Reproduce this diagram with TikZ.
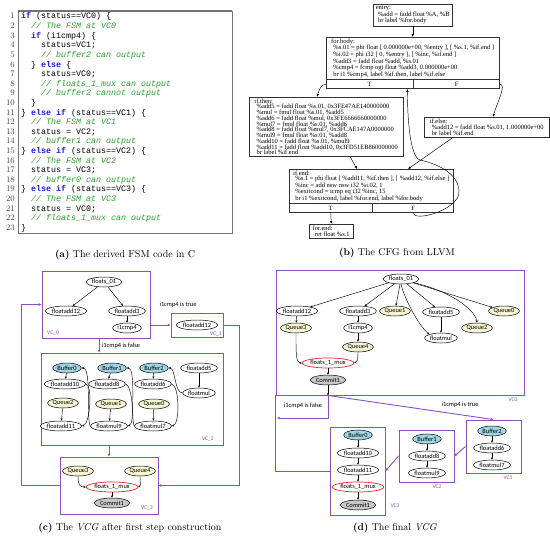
\documentclass[tikz,border=0pt]{standalone}
\usepackage{fontspec}
\usetikzlibrary{shapes.geometric,arrows.meta}
\newfontfamily\cfgfont{Liberation Serif}
\newfontfamily\vfont{Carlito}
\newfontfamily\codefont{Liberation Mono}
\definecolor{vcpurple}{RGB}{140,80,195}
\definecolor{bufblue}{RGB}{160,212,226}
\definecolor{queueyellow}{RGB}{246,246,212}
\definecolor{commitgray}{RGB}{200,200,200}
\definecolor{codegreen}{RGB}{40,160,40}
\definecolor{codeblue}{RGB}{30,30,220}
\definecolor{muxred}{RGB}{240,40,40}
\newcommand{\codekw}[1]{\textcolor{codeblue}{\bfseries #1}}
\newcommand{\codecm}[1]{\textcolor{codegreen}{\itshape #1}}
\newcommand{\ind}{\hspace*{2.2pt}}
\begin{document}
\begin{tikzpicture}[x=1pt,y=-1pt,
  codeline/.style={anchor=base west, inner sep=0pt, font=\codefont\fontsize{8.33}{9.6}\selectfont},
  lnum/.style={anchor=base east, inner sep=0pt, font=\fontsize{8.5}{9}\selectfont, text=black!75},
  cfgbox/.style={draw=black!80, line width=0.45pt, rectangle, anchor=north west, align=left, inner sep=1.2pt, font=\cfgfont\fontsize{6.5}{5.75}\selectfont},
  cfgport/.style={draw=black!80, line width=0.45pt, rectangle, anchor=north west, inner sep=0pt, minimum height=9pt, font=\cfgfont\fontsize{6.5}{6.5}\selectfont},
  cfgarrow/.style={-{Latex[length=3pt,width=2.4pt]}, line width=0.45pt},
  vnode/.style={ellipse, draw=black, line width=0.5pt, fill=white, inner xsep=0.6pt, inner ysep=0pt, minimum height=10pt, font=\vfont\fontsize{6.4}{6.4}\selectfont},
  bufnode/.style={vnode, fill=bufblue},
  quenode/.style={vnode, fill=queueyellow},
  comnode/.style={vnode, fill=commitgray},
  muxnode/.style={vnode, draw=muxred, line width=0.7pt},
  vcbox/.style={draw=vcpurple, line width=0.9pt, rectangle, inner sep=0pt},
  vclabel/.style={text=vcpurple, font=\vfont\fontsize{5.6}{5.6}\selectfont, inner sep=0pt},
  vcarrow/.style={draw=vcpurple, line width=0.9pt, -{Stealth[length=3.2pt,width=2.8pt]}},
  vcline/.style={draw=vcpurple, line width=0.9pt},
  garrow/.style={-{Stealth[length=2.4pt,width=2.1pt]}, line width=0.45pt},
  edgelabel/.style={font=\vfont\fontsize{6.4}{6.4}\selectfont, inner sep=0pt},
  caption/.style={font=\fontsize{10}{12}\selectfont, inner sep=0pt}
]
\useasboundingbox (0,0) rectangle (550,538);

% ---------------- (a) code ----------------
\node[draw=black!55, line width=0.8pt, minimum width=214pt, minimum height=222pt, inner sep=0pt] (codeframe) at (125,122) {};
\draw[black!55, line width=1.4pt] (codeframe.north west) -- (codeframe.north east);
\draw[black!55, line width=1.4pt] (codeframe.south west) -- (codeframe.south east);
\foreach \k in {1,...,23} \node[lnum] (n\k) at (15,{19+(\k-1)*9.61}) {\k};
\node[codeline] (l1) at (21,19) {\codekw{if} (status==VC0) \{};
\node[codeline] (l2) at (31,28.61) {\codecm{// The FSM at VC0}};
\node[codeline] (l3) at (31,38.22) {\codekw{if} (i1cmp4) \{};
\node[codeline] (l4) at (41,47.83) {status=VC1;};
\node[codeline] (l5) at (41,57.44) {\codecm{// buffer2 can output}};
\node[codeline] (l6) at (31,67.05) {\} \codekw{else} \{};
\node[codeline] (l7) at (41,76.66) {status=VC0;};
\node[codeline] (l8) at (41,86.27) {\codecm{// floats\_1\_mux can output}};
\node[codeline] (l9) at (41,95.88) {\codecm{// buffer2 cannot output}};
\node[codeline] (l10) at (31,105.49) {\}};
\node[codeline] (l11) at (21,115.1) {\} \codekw{else if} (status==VC1) \{};
\node[codeline] (l12) at (31,124.71) {\codecm{// The FSM at VC1}};
\node[codeline] (l13) at (31,134.32) {status = VC2;};
\node[codeline] (l14) at (31,143.93) {\codecm{// buffer1 can output}};
\node[codeline] (l15) at (21,153.54) {\} \codekw{else if} (status==VC2) \{};
\node[codeline] (l16) at (31,163.15) {\codecm{// The FSM at VC2}};
\node[codeline] (l17) at (31,172.76) {status = VC3;};
\node[codeline] (l18) at (31,182.37) {\codecm{// buffer0 can output}};
\node[codeline] (l19) at (21,191.98) {\} \codekw{else if} (status==VC3) \{};
\node[codeline] (l20) at (31,201.59) {\codecm{// The FSM at VC3}};
\node[codeline] (l21) at (31,211.2) {status = VC0;};
\node[codeline] (l22) at (31,220.81) {\codecm{// floats\_1\_mux can output}};
\node[codeline] (l23) at (21,230.42) {\}};
\node[caption] (capa) at (125,255) {\textbf{(a)} The derived FSM code in C};

% ---------------- (b) CFG ----------------
\node[cfgbox, minimum width=79pt, minimum height=22pt] (entry) at (373,4) {entry:\\\ind\%add = fadd float \%A, \%B\\\ind br label \%for.body};
\node[cfgbox, minimum width=173pt, minimum height=37pt] (forbody) at (326,37) {for.body:\\\ind\%s.01 = phi float [ 0.000000e+00, \%entry ], [ \%s.1, \%if.end ]\\\ind\%i.02 = phi i32 [ 0, \%entry ], [ \%inc, \%if.end ]\\\ind\%add3 = fadd float \%add, \%s.01\\\ind\%cmp4 = fcmp ogt float \%add3, 0.000000e+00\\\ind br i1 \%cmp4, label \%if.then, label \%if.else};
\node[cfgport, minimum width=87pt] (forbodyT) at (forbody.south west) {T};
\node[cfgport, minimum width=86pt] (forbodyF) at (forbodyT.north east) {F};
\node[cfgbox, minimum width=154pt, minimum height=59pt] (ifthen) at (249,97) {if.then:\\\ind\%add5 = fadd float \%s.01, 0x3FE47AE140000000\\\ind\%mul = fmul float \%s.01, \%add5\\\ind\%add6 = fadd float \%mul, 0x3FE6666660000000\\\ind\%mul7 = fmul float \%s.01, \%add6\\\ind\%add8 = fadd float \%mul7, 0x3FCAE147A0000000\\\ind\%mul9 = fmul float \%s.01, \%add8\\\ind\%add10 = fadd float \%s.01, \%mul9\\\ind\%add11 = fadd float \%add10, 0x3FD51EB860000000\\\ind br label \%if.end};
\node[cfgbox, minimum width=125pt, minimum height=20pt] (ifelse) at (424,117) {if.else:\\\ind\%add12 = fadd float \%s.01, 1.000000e+00\\\ind br label \%if.end};
\node[cfgbox, minimum width=164pt, minimum height=32pt] (ifend) at (289,169) {if.end:\\\ind\%s.1 = phi float [ \%add11, \%if.then ], [ \%add12, \%if.else ]\\\ind\%inc = add nsw nsw i32 \%i.02, 1\\\ind\%exitcond = icmp eq i32 \%inc, 15\\\ind br i1 \%exitcond, label \%for.end, label \%for.body};
\node[cfgport, minimum width=83pt] (ifendT) at (ifend.south west) {T};
\node[cfgport, minimum width=81pt] (ifendF) at (ifendT.north east) {F};
\node[cfgbox, minimum width=44pt, minimum height=14pt] (forend) at (309,224) {for.end:\\\ind ret float \%s.1};
\draw[cfgarrow] (entry.south) -- (forbody.north);
\draw[cfgarrow] (forbodyT.west) .. controls +(-5,0) and +(2,-7) .. ([xshift=68pt]ifthen.north west);
\draw[cfgarrow] (forbodyF.east) .. controls +(7,0) and +(4,-14) .. ([xshift=69pt]ifelse.north west);
\draw[cfgarrow] ([xshift=101pt]ifthen.south west) -- ([xshift=68pt]ifend.north west);
\draw[cfgarrow] ([xshift=29pt]ifelse.south west) -- ([xshift=119pt]ifend.north west);
\draw[cfgarrow] (ifendT.south) -- (forend.north);
\draw[cfgarrow] (ifendF.south) .. controls +(0,10) and +(0,18) .. (459,192) .. controls +(0,-20) and +(14,3) .. (420,160) .. controls +(-10,-3) and +(0,30) .. ([xshift=-6pt]forbodyT.south east);
\node[caption] (capb) at (397,253) {\textbf{(b)} The CFG from LLVM};

% ---------------- (c) VCG first step ----------------
\node[vcbox, minimum width=108pt, minimum height=67pt] (c0box) at (96,304.5) {};
\node[vcbox, minimum width=52pt, minimum height=24pt] (c1box) at (197,325) {};
\node[vcbox, minimum width=182pt, minimum height=92pt] (c2box) at (132,399) {};
\node[vcbox, minimum width=98pt, minimum height=57pt] (c3box) at (109,485.5) {};
\node[vclabel, anchor=west] (c0lab) at (47,333) {VC\_0};
\node[vclabel, anchor=east] (c1lab) at (222,334) {VC\_1};
\node[vclabel, anchor=east] (c2lab) at (214,439) {VC\_2};
\node[vclabel, anchor=east] (c3lab) at (153,508) {VC\_3};

\node[vnode] (c0f01) at (104,282) {floats\_01};
\node[vnode] (c0fa12) at (66,311) {floatadd12};
\node[vnode] (c0fa3) at (127,311) {floatadd3};
\node[vnode] (c0cmp) at (127,328) {i1cmp4};
\node[vnode] (c1fa12) at (197,325) {floatadd12};

\node[bufnode] (c2b0) at (67,368) {Buffer0};
\node[vnode] (c2fa10) at (65,384) {floatadd10};
\node[quenode] (c2q2) at (63,403) {Queue2};
\node[vnode] (c2fa11) at (61,426) {floatadd11};
\node[bufnode] (c2b1) at (112,368) {Buffer1};
\node[vnode] (c2fa8) at (107,384) {floatadd8};
\node[quenode] (c2q1) at (111,404) {Queue1};
\node[vnode] (c2fm9) at (109,426) {floatmul9};
\node[bufnode] (c2b2) at (154,368) {Buffer2};
\node[vnode] (c2fa6) at (153,384) {floatadd6};
\node[quenode] (c2q0) at (154,404) {Queue0};
\node[vnode] (c2fm7) at (153,426) {floatmul7};
\node[vnode] (c2fa5) at (199,368) {floatadd5};
\node[vnode] (c2fm) at (199,393) {floatmul};

\node[quenode] (c3q3) at (78,471) {Queue3};
\node[quenode] (c3q4) at (140,471) {Queue4};
\node[muxnode] (c3mux) at (112,487) {floats\_1\_mux};
\node[comnode] (c3com) at (112,503) {Commit1};

\draw[garrow] (c0f01) -- (c0fa12);
\draw[garrow] (c0f01) -- (c0fa3);
\draw[garrow] (c0fa3) -- (c0cmp);
\draw[garrow] (c2b0) -- (c2fa10);
\draw[garrow] (c2q2) -- (c2fa11);
\draw[garrow] (c2b1) -- (c2fa8);
\draw[garrow] (c2q1) -- (c2fm9);
\draw[garrow] (c2b2) -- (c2fa6);
\draw[garrow] (c2q0) -- (c2fm7);
\draw[garrow] (c2fa5) -- (c2fm);
\draw[garrow] (c2fa10.east) .. controls +(7,2) and +(8,-2) .. (c2fa11.east);
\draw[garrow] (c2fm9.west) .. controls +(-4,-10) and +(10,0) .. (c2b0.east);
\draw[garrow] (c2fa8.east) .. controls +(7,2) and +(7,-2) .. (c2fm9.east);
\draw[garrow] (c2fm7.west) .. controls +(-4,-10) and +(10,0) .. (c2b1.east);
\draw[garrow] (c2fa6.east) .. controls +(8,2) and +(8,-2) .. (c2fm7.east);
\draw[garrow] (c2fm.west) .. controls +(-8,0) and +(7,0) .. (c2b2.east);
\draw[garrow] (c3q3.south) .. controls +(0,9) and +(-6,0) .. (c3mux.west);
\draw[garrow] (c3q4.south) .. controls +(0,9) and +(3,-1) .. (c3mux.east);
\draw[garrow] (c3mux) -- (c3com);

\draw[vcarrow] (c0box.east |- c1box.west) -- (c1box.west);
\node[edgelabel] (ctrue) at (178,305) {i1cmp4 is true};
\draw[vcarrow] ([xshift=3pt]c0box.south) -- ([xshift=3pt]c0box.south |- c2box.north);
\node[edgelabel] (cfalse) at (121,346) {i1cmp4 is false};
\draw[vcarrow] (c3box.north |- c2box.south) -- (c3box.north);
\draw[vcarrow] (c3box.west) -- ++(-38,0) |- (c0box.west);
\draw[vcarrow] (c1box.east) -- ++(16,0) |- (c3box.east);
\node[caption] (capc) at (130,528) {\textbf{(c)} The \textit{VCG} after first step construction};

% ---------------- (d) final VCG ----------------
\node[vcbox, minimum width=248pt, minimum height=125pt] (d0box) at (400,332.5) {};
\node[vcbox, minimum width=55pt, minimum height=53pt] (d1box) at (493.5,446.5) {};
\node[vcbox, minimum width=55pt, minimum height=52pt] (d2box) at (426.5,456) {};
\node[vcbox, minimum width=55pt, minimum height=88pt] (d3box) at (357.5,471) {};
\node[vclabel] (d0lab) at (513,400) {VC0};
\node[vclabel] (d1lab) at (508,478) {VC1};
\node[vclabel] (d2lab) at (437,487) {VC2};
\node[vclabel] (d3lab) at (395,506) {VC3};

\node[vnode] (d0f01) at (401,279) {floats\_01};
\node[vnode] (d0fa12) at (297,311) {floatadd12};
\node[vnode] (d0fa3) at (358,311) {floatadd3};
\node[quenode] (d0q1) at (395,311) {Queue1};
\node[vnode] (d0fa5) at (441,312) {floatadd5};
\node[quenode] (d0q0) at (504,311) {Queue0};
\node[quenode] (d0q3) at (296,328) {Queue3};
\node[vnode] (d0cmp) at (358,328) {i1cmp4};
\node[quenode] (d0q2) at (477,328) {Queue2};
\node[vnode] (d0fm) at (441,338) {floatmul};
\node[quenode] (d0q4) at (358,347) {Queue4};
\node[muxnode] (d0mux) at (328,363) {floats\_1\_mux};
\node[comnode] (d0com) at (328,380) {Commit1};

\node[bufnode] (d1b2) at (492,431) {Buffer2};
\node[vnode] (d1fa6) at (492,448) {floatadd6};
\node[vnode] (d1fm7) at (492,465) {floatmul7};
\node[bufnode] (d2b1) at (427,439) {Buffer1};
\node[vnode] (d2fa8) at (427,456) {floatadd8};
\node[vnode] (d2fm9) at (427,473) {floatmul9};
\node[bufnode] (d3b0) at (358,435) {Buffer0};
\node[vnode] (d3fa10) at (358,453) {floatadd10};
\node[vnode] (d3fa11) at (358,470) {floatadd11};
\node[muxnode] (d3mux) at (358,487) {floats\_1\_mux};
\node[comnode] (d3com) at (358,505) {Commit1};

\draw[garrow] (d0f01) -- (d0fa12);
\draw[garrow] (d0f01) -- (d0fa3);
\draw[garrow] (d0f01) -- (d0q1);
\draw[garrow] (d0f01) -- (d0fa5);
\draw[garrow] (d0f01) -- (d0q0);
\draw[garrow] (d0f01.south east) .. controls +(35,8) and +(-2,-14) .. (d0q2.north);
\draw[garrow] (d0f01.south) .. controls +(4,16) and +(-10,-8) .. (d0fm.north west);
\draw[garrow] (d0fa12) -- (d0q3);
\draw[garrow] (d0fa3) -- (d0cmp);
\draw[garrow] (d0cmp) -- (d0q4);
\draw[garrow] (d0fa5) -- (d0fm);
\draw[garrow] (d0q3.south) .. controls +(0,20) and +(-6,0) .. (d0mux.west);
\draw[garrow] (d0q4.south) .. controls +(0,8) and +(3,-1) .. (d0mux.east);
\draw[garrow] (d0mux) -- (d0com);
\draw[garrow] (d1b2) -- (d1fa6);
\draw[garrow] (d1fa6) -- (d1fm7);
\draw[garrow] (d2b1) -- (d2fa8);
\draw[garrow] (d2fa8) -- (d2fm9);
\draw[garrow] (d3b0) -- (d3fa10);
\draw[garrow] (d3fa10) -- (d3fa11);
\draw[garrow] (d3fa11) -- (d3mux);
\draw[garrow] (d3mux) -- (d3com);
\draw[garrow] (d0com.south) -- (d0com.south |- d0box.south);

\coordinate (dfalse) at (277,418);
\draw[vcarrow] (d0com.south |- d0box.south) |- (dfalse);
\node[edgelabel] (dfalselab) at (303,406) {i1cmp4 is false};
\draw[vcarrow] (d0com.south |- d0box.south) -- (d1box.north);
\node[edgelabel] (dtruelab) at (460,405) {i1cmp4 is true};
\draw[vcline] (d3box.west) -| (d0box.south west);
\draw[vcarrow] (d1box.west) -- (d2box.east);
\draw[vcarrow] (d2box.west) -- (d3box.east);
\node[caption] (capd) at (395,528) {\textbf{(d)} The final \textit{VCG}};
\end{tikzpicture}
\end{document}
